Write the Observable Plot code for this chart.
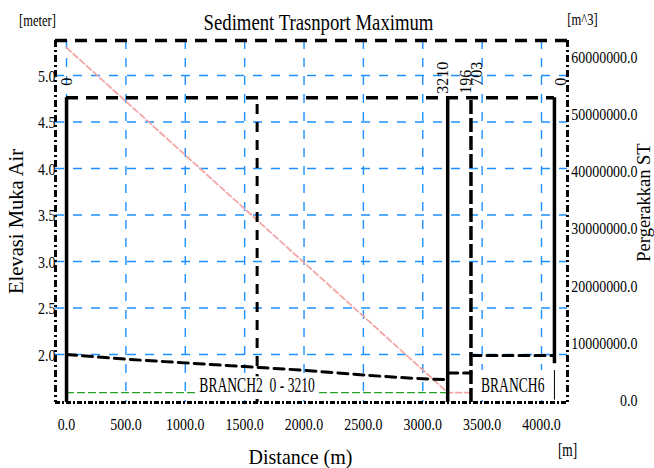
<!DOCTYPE html>
<html><head><meta charset="utf-8">
<script src="https://cdn.jsdelivr.net/npm/d3@7"></script>
<script src="https://cdn.jsdelivr.net/npm/@observablehq/plot@0.6"></script>
<style>
html,body{margin:0;padding:0;background:#fff;}
#chart svg{font-family:"Liberation Serif","Times New Roman",serif;display:block;}
</style></head><body><div id="chart"></div>
<script>
// ---- data ----
const xTicks = [0, 500, 1000, 1500, 2000, 2500, 3000, 3500, 4000];
const yTicks = [2.0, 2.5, 3.0, 3.5, 4.0, 4.5, 5.0];
const stTicks = [0, 10000000, 20000000, 30000000, 40000000, 50000000, 60000000];

const branch2Dist  = [0, 500, 1000, 1500, 2000, 2500, 3000, 3210];
const branch2Level = [2.00, 1.95, 1.91, 1.87, 1.83, 1.78, 1.74, 1.73];
const linkDist  = [3210, 3406];
const linkLevel = [1.80, 1.80];
const branch6Dist  = [3406, 4109];
const branch6Level = [1.99, 1.99];
const bedDist  = [0, 3210];
const bedLevel = [1.59, 1.59];
const stDist  = [0, 3210, 3406];
const stValue = [61700000, 1400000, 1400000];

const branchNames = ["BRANCH2  0 - 3210", "BRANCH6"];
const branchStart = [0, 3406];
const branchEnd   = [3210, 4109];
const boxTop = 4.76;
const solidBounds = [0, 3210];
const dashedBounds = [3406];
const midMarker = [1605];

const endLabelText = ["0", "3210", "196", "703", "0"];
const endLabelDist = [0, 3210, 3406, 3406, 4109];
const endLabelSide = ["middle", "bottom", "bottom", "top", "top"];

// ---- scales ----
const xDomain = [-93, 4219];
const yDomain = [1.484, 5.376];
const stToElev = d3.scaleLinear().domain([0, 60000000]).range([1.505, 5.194]);

const black = "#000";
const blue = "#1e90ff";
const F = "Liberation Serif";

// font size -> horizontal compression of the glyphs (the reference type is condensed)
const squeeze = {"17px": 0.82, "16px": 1.0, "20px": 0.68, "24px": 0.78, "16.5px": 0.76, "18px": 0.74, "21.5px": 0.93, "21px": 0.98, "18.5px": 1.0};

function endLabels(side, dy) {
  return Plot.text(endLabelText, {
    filter: (d, i) => endLabelSide[i] === side,
    x: (d, i) => endLabelDist[i], y: boxTop, text: d => d, rotate: -90,
    textAnchor: "start", lineAnchor: side, dy, fontSize: 16, fill: black
  });
}
const T = (txt, o) => Plot.text([txt], {text: d => d, lineAnchor: "middle", fill: black, ...o});

const chart = Plot.plot({
  width: 654, height: 468,
  marginLeft: 55, marginRight: 87, marginTop: 40, marginBottom: 66,
  x: {domain: xDomain, axis: null},
  y: {domain: yDomain, axis: null},
  style: {fontFamily: F, background: "#fff", color: black, overflow: "visible"},
  marks: [
    // grid
    Plot.ruleX(xTicks, {stroke: blue, strokeWidth: 1.4, strokeDasharray: "9,9"}),
    Plot.ruleY(yTicks, {stroke: blue, strokeWidth: 1.4, strokeDasharray: "9,9"}),
    // sediment transport (right axis)
    Plot.line(stDist, {x: stDist, y: stValue.map(v => stToElev(v)), stroke: "#f4a6a6", strokeWidth: 1.8, strokeDasharray: "6,3"}),
    // bed line
    Plot.line(bedDist, {x: bedDist, y: bedLevel, stroke: "#22a022", strokeWidth: 1.1, strokeDasharray: "7,4"}),
    // water levels
    Plot.line(branch2Dist, {x: branch2Dist, y: branch2Level, stroke: black, strokeWidth: 3, strokeDasharray: "10,6", curve: "monotone-x"}),
    Plot.line(linkDist, {x: linkDist, y: linkLevel, stroke: black, strokeWidth: 3, strokeDasharray: "10,6"}),
    Plot.line(branch6Dist, {x: branch6Dist, y: branch6Level, stroke: black, strokeWidth: 3, strokeDasharray: "10,6"}),
    // branch box
    Plot.ruleY([boxTop], {x1: branchStart[0], x2: branchEnd[1], stroke: black, strokeWidth: 3.5, strokeDasharray: "12,8"}),
    Plot.ruleX(solidBounds, {y1: yDomain[0], y2: boxTop, stroke: black, strokeWidth: 3.5}),
    Plot.ruleX([branchEnd[1]], {y1: 1.90, y2: boxTop, stroke: black, strokeWidth: 3.5}),
    Plot.ruleX(dashedBounds, {y1: yDomain[0], y2: boxTop, stroke: black, strokeWidth: 3.5, strokeDasharray: "14,4"}),
    Plot.ruleX(midMarker, {y1: yDomain[0], y2: 4.71, stroke: black, strokeWidth: 3, strokeDasharray: "10,8"}),
    // label boxes
    Plot.rect([0], {x1: branchStart[0], x2: branchEnd[0], y1: yDomain[0], y2: 1.76, insetLeft: 132, insetRight: 129, insetBottom: 3, fill: "#fff"}),
    Plot.rect([0], {x1: branchStart[1], x2: branchEnd[1], y1: yDomain[0], y2: 1.828, insetLeft: 3, insetBottom: 2, fill: "#fff"}),
    Plot.ruleX([branchEnd[1]], {y1: 1.51, y2: 1.828, stroke: black, strokeWidth: 1}),
    Plot.text(branchNames, {x: (d, i) => (branchStart[i] + branchEnd[i]) / 2, y: 1.667, text: d => d, fontSize: 20, fill: black}),
    // branch end labels
    endLabels("middle", -12),
    endLabels("bottom", -4),
    endLabels("top", -12),
    // left axis labels
    Plot.text(yTicks, {y: d => d, frameAnchor: "left", lineAnchor: "middle", dx: 0, dy: 1, textAnchor: "end", text: d => d.toFixed(1), fontSize: 17, fill: black}),
    // bottom axis labels
    Plot.text(xTicks, {x: d => d, frameAnchor: "bottom", lineAnchor: "middle", dy: 22, text: d => d.toFixed(1), fontSize: 17, fill: black}),
    // right axis labels
    Plot.text(stTicks, {y: d => stToElev(d), frameAnchor: "right", lineAnchor: "middle", dx: 70, textAnchor: "end", text: d => d.toFixed(1), fontSize: 17, fill: black}),
    // titles
    T("Sediment Trasnport Maximum", {frameAnchor: "top", dx: 7, dy: -18, fontSize: 24}),
    T("[meter]", {frameAnchor: "top-left", textAnchor: "middle", dx: -18, dy: -20, fontSize: 16.5}),
    T("[m^3]", {frameAnchor: "top-right", textAnchor: "middle", dx: 15, dy: -21, fontSize: 16.5}),
    T("Elevasi Muka Air", {frameAnchor: "left", textAnchor: "middle", dx: -39, rotate: -90, fontSize: 21}),
    T("Pergerakkan ST", {frameAnchor: "right", textAnchor: "middle", dx: 77, dy: -19, rotate: -90, fontSize: 18.5}),
    T("Distance (m)", {frameAnchor: "bottom", dx: -11, dy: 55, fontSize: 21.5}),
    T("[m]", {frameAnchor: "bottom-right", textAnchor: "middle", dx: 0, dy: 48, fontSize: 18}),
    // borders
    Plot.ruleY([yDomain[1]], {stroke: black, strokeWidth: 3.5, strokeDasharray: "12,8"}),
    Plot.ruleX([xDomain[0]], {stroke: black, strokeWidth: 3, strokeDasharray: "7,3,2,3"}),
    Plot.ruleX([xDomain[1]], {stroke: black, strokeWidth: 3, strokeDasharray: "7,3,2,3"}),
    Plot.ruleY([yDomain[0]], {stroke: black, strokeWidth: 3, strokeDasharray: "5,2,2,2"})
  ]
});
document.getElementById("chart").appendChild(chart);

// condense glyphs horizontally like the reference typeface
chart.querySelectorAll("text").forEach(el => {
  const r = squeeze[getComputedStyle(el).fontSize];
  if (r && r !== 1) {
    const w = el.getComputedTextLength();
    el.setAttribute("textLength", (w * r).toFixed(2));
    el.setAttribute("lengthAdjust", "spacingAndGlyphs");
  }
});
</script></body></html>
